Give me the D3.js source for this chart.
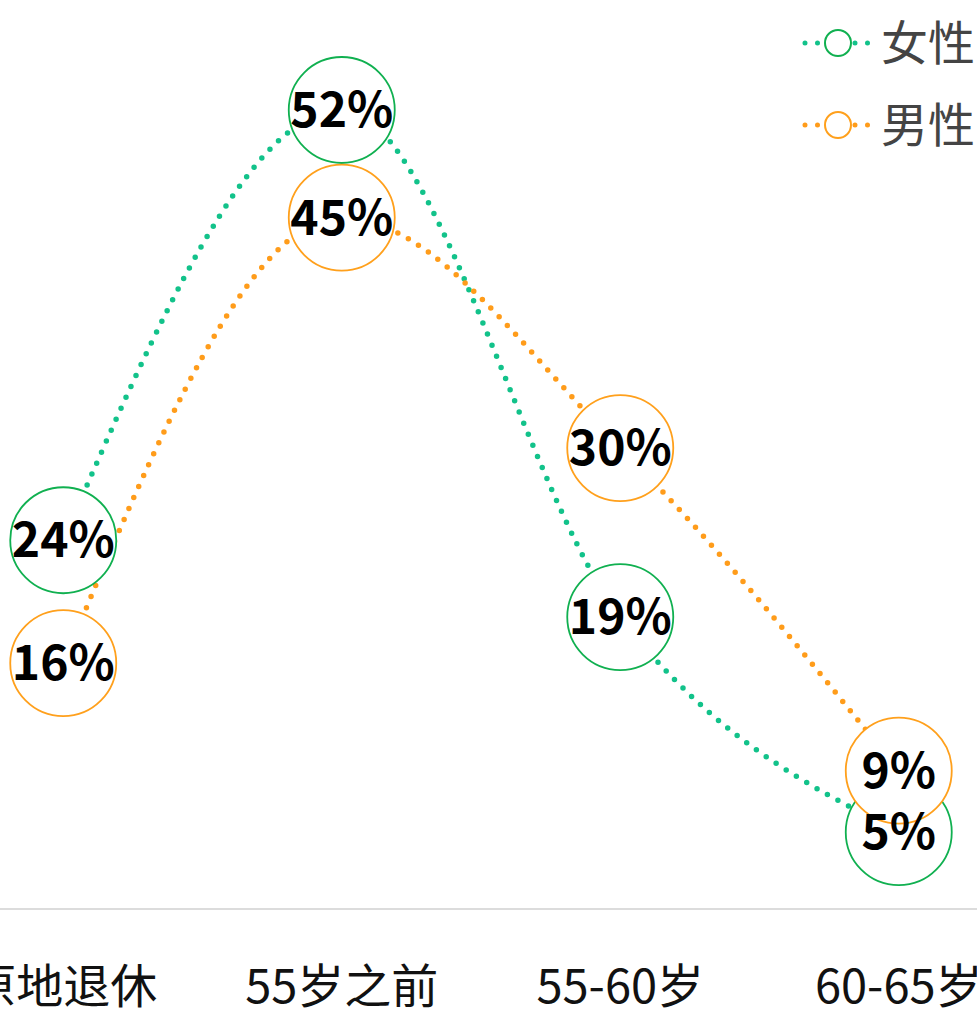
<!DOCTYPE html>
<html>
<head>
<meta charset="utf-8">
<script src="https://cdn.jsdelivr.net/npm/d3@7"></script>
<style>
  body { margin: 0; background: #fff; }
  svg { display: block; }
  .axisLabel { font-family: "Microsoft YaHei", "Noto Sans CJK SC", sans-serif; font-size: 47px; fill: #111; }
  .valLabel { font-family: "Microsoft YaHei", "Noto Sans CJK SC", sans-serif; font-size: 48px; font-weight: 700; fill: #000; }
  .legendText { font-family: "Microsoft YaHei", "Noto Sans CJK SC", sans-serif; font-size: 47px; fill: #444; }
</style>
</head>
<body>
<div id="viz"></div>
<script>
categories = ['原地退休', '55岁之前', '55-60岁', '60-65岁'];
female = [24, 52, 19, 5];
male = [16, 45, 30, 9];
seriesNames = ['女性', '男性'];

width = 977;
height = 1010;

lineColors = ['#12c28a', '#ff9c1a'];
ringColors = ['#10b050', '#ffa01c'];

svg = d3.select('#viz').append('svg')
	.attr('width', width)
	.attr('height', height);

// band scale wider than the window, the chart is cropped at both sides
xScale = d3.scaleBand()
	.domain(categories)
	.range([-76, 1038]);

yScale = d3.scaleLinear()
	.domain([0, 52])
	.range([909, 110]);

cx = function(d) { return xScale(d) + xScale.bandwidth() / 2; };

// baseline
svg.append('line')
	.attr('x1', 0)
	.attr('x2', width)
	.attr('y1', yScale(0))
	.attr('y2', yScale(0))
	.attr('stroke', '#dcdcdc')
	.attr('stroke-width', 2);

svg.selectAll('text.axisLabel')
	.data(categories)
	.enter()
	.append('text')
	.attr('class', 'axisLabel')
	.attr('x', d => cx(d))
	.attr('y', 1003)
	.attr('text-anchor', 'middle')
	.text(d => d);

series = [female, male].map(function(vals, i) {
	return { name: seriesNames[i], i: i, values: vals.map(function(v, j) { return { cat: categories[j], v: v }; }) };
});

line = d3.line()
	.x(d => cx(d.cat))
	.y(d => yScale(d.v))
	.curve(d3.curveMonotoneX);

series.forEach(function(s) {
	svg.append('path')
		.attr('d', line(s.values))
		.attr('fill', 'none')
		.attr('stroke', lineColors[s.i])
		.attr('stroke-width', 5.5)
		.attr('stroke-linecap', 'round')
		.attr('stroke-dasharray', '0 12');
});

r = 53;
series.forEach(function(s) {
	svg.selectAll(null)
		.data(s.values)
		.enter()
		.append('circle')
		.attr('cx', d => cx(d.cat))
		.attr('cy', d => yScale(d.v))
		.attr('r', r)
		.attr('fill', '#fff')
		.attr('stroke', ringColors[s.i])
		.attr('stroke-width', 1.8);
});

series.forEach(function(s) {
	svg.selectAll(null)
		.data(s.values)
		.enter()
		.append('text')
		.attr('class', 'valLabel')
		.attr('x', d => cx(d.cat))
		.attr('y', d => yScale(d.v) + 17)
		.attr('text-anchor', 'middle')
		.text(d => d.v + '%');
});

// legend
legend = svg.selectAll('g.legend')
	.data(series)
	.enter()
	.append('g')
	.attr('class', 'legend')
	.attr('transform', (d, i) => 'translate(0,' + (43 + i * 82) + ')');

legend.append('line')
	.attr('x1', 805)
	.attr('x2', 870)
	.attr('y1', 0)
	.attr('y2', 0)
	.attr('stroke', d => lineColors[d.i])
	.attr('stroke-width', 5)
	.attr('stroke-linecap', 'round')
	.attr('stroke-dasharray', '0 12.5');

legend.append('circle')
	.attr('cx', 838)
	.attr('cy', 0)
	.attr('r', 13)
	.attr('fill', '#fff')
	.attr('stroke', d => ringColors[d.i])
	.attr('stroke-width', 2);

legend.append('text')
	.attr('class', 'legendText')
	.attr('x', 881)
	.attr('y', 17)
	.text(d => d.name);
</script>
</body>
</html>
